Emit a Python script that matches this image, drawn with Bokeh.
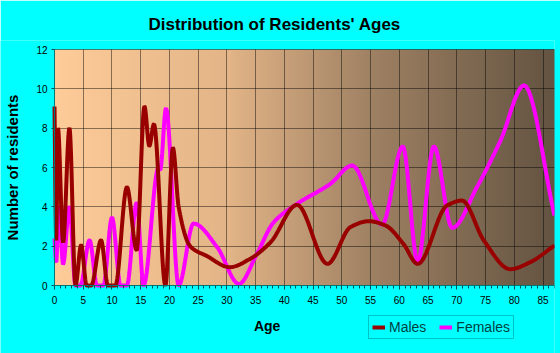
import numpy as np
from bokeh.plotting import figure
from bokeh.models import Range1d, FixedTicker, Legend, LegendItem, Label
from bokeh.embed import file_html
from bokeh.resources import INLINE

# ---- data ----
male_ages = [0, 0.3, 0.6, 1.5, 2.6, 3.65, 4.63, 5.6, 6.4, 8.1, 9.3, 10.6, 12.6, 14.3,
             15.65, 16.5, 17.3, 19.3, 20.6, 21.6, 23.6, 26.5, 30.5, 34, 37.6, 42.2,
             47.5, 51.5, 54.7, 57.6, 60.7, 63.2, 68.3, 70.9, 74.7, 79.3, 82.8, 87]
male_vals = [9.1, 2.3, 8.0, 2.2, 8.0, 0, 2.05, 0, 0, 2.3, 0, 0, 5.0, 1.8,
             9.1, 7.1, 8.2, 0, 7.0, 4.0, 2.0, 1.5, 0.93, 1.35, 2.2, 4.1,
             1.1, 2.97, 3.27, 3.05, 2.12, 1.1, 4.07, 4.32, 2.29, 0.83, 1.19, 2.03]

female_ages = [0, 0.3, 0.75, 1.5, 2.6, 3.65, 4.5, 6.1, 7.4, 8.5, 10.0, 11.5, 12.6,
               14.3, 15.5, 18.1, 18.4, 19.4, 21.6, 24.2, 28.3, 32.1, 35.2, 38.1,
               42.2, 48, 51.8, 57, 60.6, 63.2, 66, 69.2, 73.5, 77.6, 81.7, 87]
female_vals = [2.4, 1.2, 4.0, 1.1, 4.0, 0, 0, 2.3, 0, 0, 3.45, 0, 0,
               4.2, 0, 6.0, 5.9, 9.0, 0, 3.15, 1.95, 0.08, 1.6, 3.2,
               4.15, 5.17, 6.1, 3.1, 7.07, 1.19, 7.07, 2.93, 5.0, 7.37, 10.17, 3.56]

x_ticks = list(range(0, 90, 5))
y_ticks = list(range(0, 13, 2))


def smooth_path(xs, ys, n=24):
    """Monotone cubic (shape-preserving) path through the read points, for drawing."""
    x = np.asarray(xs, float)
    y = np.asarray(ys, float)
    h = np.diff(x)
    d = np.diff(y) / h
    m = np.zeros_like(y)
    m[0] = d[0]
    m[-1] = d[-1]
    for k in range(1, len(x) - 1):
        if d[k - 1] * d[k] > 0:
            w1 = 2 * h[k] + h[k - 1]
            w2 = h[k] + 2 * h[k - 1]
            m[k] = (w1 + w2) / (w1 / d[k - 1] + w2 / d[k])
    px, py = [], []
    for k in range(len(x) - 1):
        t = np.linspace(0, 1, n, endpoint=False)
        h00 = 2 * t**3 - 3 * t**2 + 1
        h10 = t**3 - 2 * t**2 + t
        h01 = -2 * t**3 + 3 * t**2
        h11 = t**3 - t**2
        seg = h00 * y[k] + h10 * h[k] * m[k] + h01 * y[k + 1] + h11 * h[k] * m[k + 1]
        px.extend(x[k] + t * h[k])
        py.extend(seg)
    px.append(x[-1])
    py.append(y[-1])
    return px, py


FONT = "Liberation Sans"
XMAX = 87
YMAX = 12
PLOT_W = 500.0          # pixel width of the 0..87 plot area
PLOT_H = 236.0          # pixel height of the 0..12 plot area
LEFT_PX = 54.0          # room left of the plot area (tick labels, y title)
BOTTOM_PX = 68.0        # room under the plot area (tick labels, "Age", legend)
TOP_PX = 9.0            # room above the plot area inside the frame (top tick label)
XU = XMAX / PLOT_W      # data units per pixel
YU = YMAX / PLOT_H
XMIN = -LEFT_PX * XU
YMIN = -BOTTOM_PX * YU
YTOP = YMAX + TOP_PX * YU

p = figure(width=560, height=353, x_range=Range1d(XMIN, XMAX), y_range=Range1d(YMIN, YTOP),
           output_backend="svg", toolbar_location=None,
           min_border_left=0, min_border_right=6, min_border_top=40, min_border_bottom=0,
           border_fill_color="#00FFFF", background_fill_color="#00FFFF")
p.outline_line_color = None

# background gradient of the plot area (decoration)
N = 256
stops_x = [0, 0.35, 0.63, 1.0]
stops_c = [(254, 204, 153), (226, 180, 135), (160, 130, 100), (100, 84, 66)]
gx = np.linspace(0, 1, N)
img = np.empty((1, N), dtype=np.uint32)
view = img.view(dtype=np.uint8).reshape((1, N, 4))
for ch in range(3):
    view[0, :, ch] = np.interp(gx, stops_x, [c[ch] for c in stops_c]).astype(np.uint8)
view[0, :, 3] = 255
p.image_rgba(image=[img], x=0, y=0, dw=XMAX, dh=YMAX, level="image")

# axes, pinned to the plot-area edges
p.xaxis.fixed_location = 0
p.yaxis.fixed_location = 0
p.xaxis.bounds = (0, XMAX)
p.yaxis.bounds = (0, YMAX)
p.xaxis.ticker = FixedTicker(ticks=x_ticks, minor_ticks=list(range(0, XMAX + 1)))
p.yaxis.ticker = FixedTicker(ticks=y_ticks, minor_ticks=[])
for ax in (p.xaxis[0], p.yaxis[0]):
    ax.axis_line_color = "#007777"
    ax.major_tick_line_color = "#005555"
    ax.minor_tick_line_color = "#005555"
    ax.major_tick_in = 0
    ax.minor_tick_in = 0
    ax.major_label_text_font = FONT
    ax.major_label_text_font_size = "10px"
    ax.major_label_text_color = "#000000"
p.xaxis.major_tick_out = 4
p.xaxis.minor_tick_out = 3
p.xaxis.major_label_standoff = 6
p.yaxis.major_tick_out = 3
p.yaxis.major_label_standoff = 4

# grid
p.ygrid.grid_line_color = "black"
p.ygrid.grid_line_alpha = 0.45
p.xgrid.grid_line_color = "black"
p.xgrid.grid_line_alpha = 0.45
try:
    p.xgrid.cross_bounds = (0, YMAX)
    p.ygrid.cross_bounds = (0, XMAX)
except AttributeError:
    p.xgrid.visible = False
    p.ygrid.visible = False
    p.segment(x0=x_ticks, y0=0, x1=x_ticks, y1=YMAX, line_color="black", line_alpha=0.45)
    p.segment(x0=0, y0=y_ticks, x1=XMAX, y1=y_ticks, line_color="black", line_alpha=0.45)
# right edge of the plot area
p.segment(x0=[XMAX], y0=[0], x1=[XMAX], y1=[YMAX], line_color="black", line_alpha=0.45)

# title
p.title.text = "Distribution of Residents' Ages"
p.title.align = "left"
p.title.offset = 148
p.title.vertical_align = "middle"
p.title.text_font = FONT
p.title.text_font_size = "17px"
p.title.text_font_style = "bold"
p.title.text_color = "#000000"
p.title.standoff = 12

# axis titles
p.add_layout(Label(x=(12 - LEFT_PX) * XU, y=(285 - 167) * YU, text="Number of residents",
                   angle=np.pi / 2, text_font=FONT, text_font_size="15px",
                   text_font_style="bold", text_align="center", text_baseline="middle",
                   text_color="#000000"))
p.add_layout(Label(x=37.0, y=-40 * YU, text="Age", text_font=FONT,
                   text_font_size="14px", text_font_style="bold", text_align="center",
                   text_baseline="middle", text_color="#000000"))

# series
fx, fy = smooth_path(female_ages, female_vals)
mx, my = smooth_path(male_ages, male_vals)
rf = p.line(fx, fy, line_color="#FF00FF", line_width=4)
rm = p.line(mx, my, line_color="#990000", line_width=4)

legend = Legend(items=[LegendItem(label="Males", renderers=[rm]),
                       LegendItem(label="Females", renderers=[rf])],
                orientation="horizontal", location=(368, 14),
                border_line_color="#008888", border_line_width=1,
                background_fill_alpha=0, padding=3, margin=0, spacing=13,
                glyph_width=13, glyph_height=14, label_standoff=4,
                label_text_font=FONT, label_text_font_size="14px",
                label_text_color="#003f3f", label_height=14)
p.add_layout(legend, "center")

open("out.html", "w").write(file_html(p, INLINE))
